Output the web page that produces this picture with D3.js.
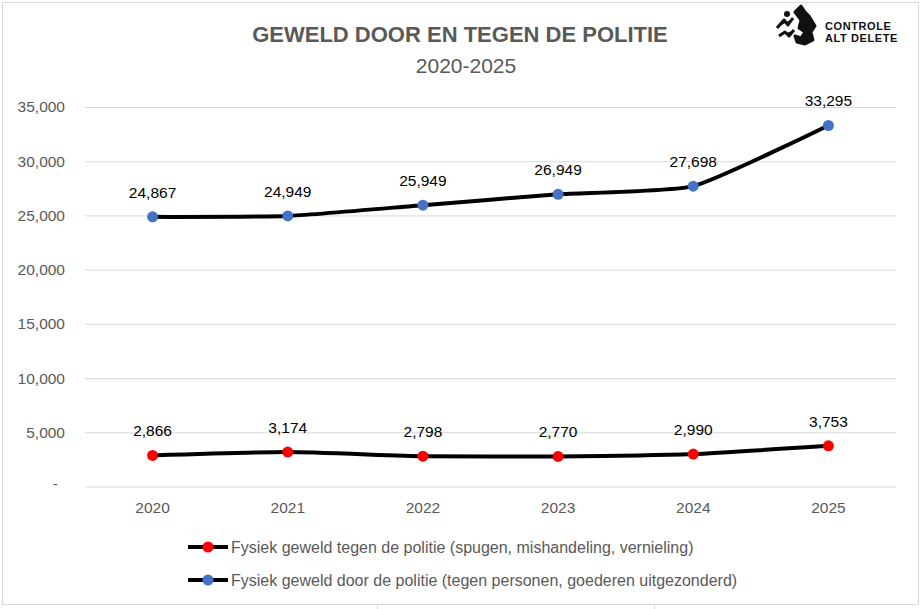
<!DOCTYPE html>
<html>
<head>
<meta charset="utf-8">
<script src="https://cdn.jsdelivr.net/npm/d3@7"></script>
<style>
  body { margin: 0; background: #fff; }
  svg { display: block; font-family: "Liberation Sans", Arial, sans-serif; }
</style>
</head>
<body>
<div id="chart"></div>
<script>
const years = ["2020", "2021", "2022", "2023", "2024", "2025"];
const tegenPolitie = [2866, 3174, 2798, 2770, 2990, 3753];
const doorPolitie = [24867, 24949, 25949, 26949, 27698, 33295];
const yTicks = [0, 5000, 10000, 15000, 20000, 25000, 30000, 35000];
const seriesNames = [
  "Fysiek geweld tegen de politie (spugen, mishandeling, vernieling)",
  "Fysiek geweld door de politie (tegen personen, goederen uitgezonderd)"
];
const seriesColors = ["#ff0000", "#4472c4"];

const width = 922, height = 609;
const margin = {top: 107, right: 26, bottom: 123, left: 85};

const svg = d3.select("#chart").append("svg")
    .attr("width", width)
    .attr("height", height);

// chart border
svg.append("rect")
    .attr("x", 2.5).attr("y", 2.5)
    .attr("width", 916).attr("height", 602)
    .attr("fill", "#fff")
    .attr("stroke", "#d9d9d9");

// little marks under the frame
svg.selectAll(".pagemark")
  .data([377.5, 654.5])
  .join("line")
    .attr("x1", d => d).attr("x2", d => d)
    .attr("y1", 605).attr("y2", 609)
    .attr("stroke", "#d9d9d9");

const x = d3.scaleBand()
    .domain(years)
    .range([margin.left, width - margin.right]);

const y = d3.scaleLinear()
    .domain([0, 35000])
    .range([486.5, margin.top]);

// gridlines + y labels
svg.append("g")
    .attr("transform", `translate(${margin.left},0)`)
    .call(d3.axisLeft(y)
      .tickValues(yTicks)
      .tickSize(-(x.range()[1] - margin.left))
      .tickPadding(20)
      .tickFormat(d => d === 0 ? "-" : d3.format(",")(d)))
    .call(g => g.select(".domain").remove())
    .call(g => g.selectAll(".tick line").attr("stroke", "#d9d9d9"))
    .call(g => g.selectAll(".tick text")
      .attr("fill", "#595959")
      .attr("font-size", 15.5)
      .attr("font-family", "Liberation Sans, Arial, sans-serif"))
    .call(g => g.selectAll(".tick").filter(d => d === 0).select("text")
      .attr("x", -27).attr("dy", "0.1em"));

// x labels
svg.append("g")
    .attr("transform", `translate(0,${y(0)})`)
    .call(d3.axisBottom(x).tickSize(0).tickPadding(15))
    .call(g => g.select(".domain").remove())
    .call(g => g.selectAll(".tick text")
      .attr("fill", "#595959")
      .attr("font-size", 15.5)
      .attr("font-family", "Liberation Sans, Arial, sans-serif"));

const cx = d => x(d) + x.bandwidth() / 2;
const line = d3.line()
    .x((d, i) => cx(years[i]))
    .y(d => y(d))
    .curve(d3.curveCardinal.tension(0.5));

[tegenPolitie, doorPolitie].forEach((vals, s) => {
  svg.append("path")
      .datum(vals)
      .attr("fill", "none")
      .attr("stroke", "#000")
      .attr("stroke-width", 4)
      .attr("stroke-linejoin", "round")
      .attr("d", line);

  svg.append("g")
    .selectAll("circle")
    .data(vals)
    .join("circle")
      .attr("cx", (d, i) => cx(years[i]))
      .attr("cy", d => y(d))
      .attr("r", 5.5)
      .attr("fill", seriesColors[s]);

  svg.append("g")
    .selectAll("text")
    .data(vals)
    .join("text")
      .attr("x", (d, i) => cx(years[i]))
      .attr("y", d => y(d) - 19)
      .attr("text-anchor", "middle")
      .attr("font-size", 15.5)
      .attr("fill", "#000")
      .text(d => d3.format(",")(d));
});

// title
svg.append("text")
    .attr("x", 460).attr("y", 42)
    .attr("text-anchor", "middle")
    .attr("font-size", 22)
    .attr("font-weight", "bold")
    .attr("fill", "#595959")
    .text("GEWELD DOOR EN TEGEN DE POLITIE");

svg.append("text")
    .attr("x", 466).attr("y", 73)
    .attr("text-anchor", "middle")
    .attr("font-size", 21)
    .attr("fill", "#595959")
    .text("2020-2025");

// legend
const legend = svg.append("g")
  .selectAll("g")
  .data(seriesNames)
  .join("g")
    .attr("transform", (d, i) => `translate(188,${547 + i * 33})`);

legend.append("line")
    .attr("x1", 0).attr("x2", 40)
    .attr("stroke", "#000").attr("stroke-width", 4);
legend.append("circle")
    .attr("cx", 20).attr("r", 5.5)
    .attr("fill", (d, i) => seriesColors[i]);
legend.append("text")
    .attr("x", 43).attr("dy", "0.35em")
    .attr("font-size", 16)
    .attr("fill", "#595959")
    .text(d => d);

// logo
const logo = svg.append("g").attr("transform", "translate(775,6)");
logo.append("path")
    .attr("d", "M2,22 L9,14 L13,19 L18,12 M4,30 L10,26 L14,30 L19,24 M20,6 L26,0 L30,6 L34,10 L40,20 L36,26 L38,34 L30,38 L22,36 L20,30 L26,32 L30,26 L24,22 L26,14 Z")
    .attr("fill", "#111")
    .attr("stroke", "#111")
    .attr("stroke-width", 3)
    .attr("stroke-linejoin", "round");
logo.append("circle").attr("cx", 12).attr("cy", 8).attr("r", 3).attr("fill", "#111");
logo.append("text")
    .attr("x", 50).attr("y", 23.5)
    .attr("font-size", 11).attr("font-weight", "bold")
    .attr("letter-spacing", 0.6)
    .attr("fill", "#111")
    .text("CONTROLE");
logo.append("text")
    .attr("x", 50).attr("y", 35.5)
    .attr("font-size", 11).attr("font-weight", "bold")
    .attr("letter-spacing", 0.6)
    .attr("fill", "#111")
    .text("ALT DELETE");
</script>
</body>
</html>
